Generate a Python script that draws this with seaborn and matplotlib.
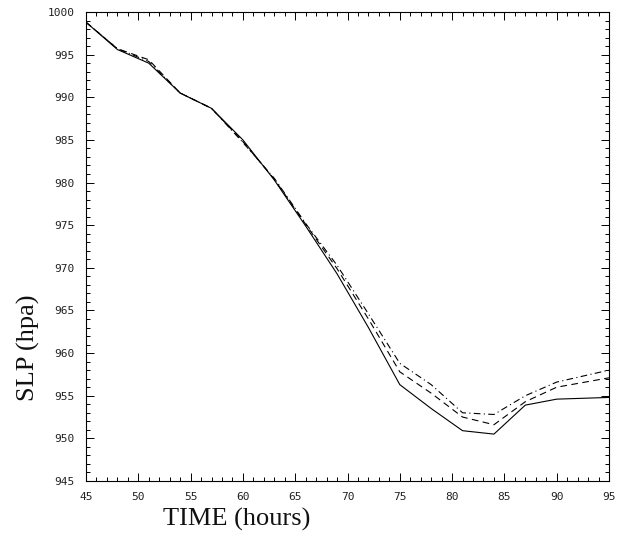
import numpy as np
import pandas as pd
import matplotlib
matplotlib.use("Agg")
import matplotlib.pyplot as plt
import seaborn as sns
from matplotlib.ticker import MultipleLocator

hours = [45, 48, 51, 54, 57, 60, 63, 66, 69, 72, 75, 78, 81, 84, 87, 90, 95]
slp_solid = [998.8, 995.6, 994.0, 990.5, 988.7, 985.0, 980.3, 974.9, 969.3, 963.0, 956.3, 953.5, 950.9, 950.5, 953.9, 954.6, 954.8]
slp_dashed = [998.8, 995.7, 994.4, 990.5, 988.7, 984.8, 980.4, 975.1, 969.9, 964.0, 957.8, 955.3, 952.5, 951.6, 954.3, 956.0, 957.1]
slp_dashdot = [998.8, 995.7, 994.2, 990.5, 988.7, 984.7, 980.5, 975.2, 970.3, 964.6, 958.8, 956.3, 953.0, 952.8, 955.0, 956.6, 958.0]
run_names = ["solid", "dashed", "dashdot"]
xticks = [45, 50, 55, 60, 65, 70, 75, 80, 85, 90, 95]
yticks = [945, 950, 955, 960, 965, 970, 975, 980, 985, 990, 995, 1000]

df = pd.concat([
    pd.DataFrame({"hour": hours, "slp": vals, "run": name})
    for name, vals in zip(run_names, [slp_solid, slp_dashed, slp_dashdot])
], ignore_index=True)

sns.set_style("ticks")
fig = plt.figure(figsize=(6.17, 5.42), dpi=100)
ax = fig.add_axes([86/617, 1-481/542, 523/617, 469/542])

dashes = {"solid": "", "dashed": (6, 4), "dashdot": (6, 3, 1, 3)}
sns.lineplot(data=df, x="hour", y="slp", style="run", dashes=dashes,
             color="black", linewidth=0.8, legend=False, ax=ax)

ax.set_xlim(45, 95)
ax.set_ylim(945, 1000)
ax.set_xticks(xticks)
ax.set_yticks(yticks)
ax.xaxis.set_minor_locator(MultipleLocator(1))
ax.yaxis.set_minor_locator(MultipleLocator(1))
ax.tick_params(which="both", direction="in", top=True, right=True, width=0.7,
               color="black", labelcolor="#222222")
ax.tick_params(which="major", length=6)
ax.tick_params(which="minor", length=3)
for lab in ax.get_xticklabels() + ax.get_yticklabels():
    lab.set_family("DejaVu Sans Mono")
    lab.set_fontsize(8)
ax.tick_params(axis="x", pad=8)
ax.tick_params(axis="y", pad=8)
for s in ax.spines.values():
    s.set_linewidth(0.8)
    s.set_color("black")

ax.set_xlabel("TIME (hours)", family="Liberation Serif", fontsize=19, color="#111111")
ax.set_ylabel("SLP (hpa)", family="Liberation Serif", fontsize=19, color="#111111")
ax.xaxis.set_label_coords(0.289, -0.058)
ax.yaxis.set_label_coords(-0.087, 0.284)

fig.savefig("out.png", dpi=100)
